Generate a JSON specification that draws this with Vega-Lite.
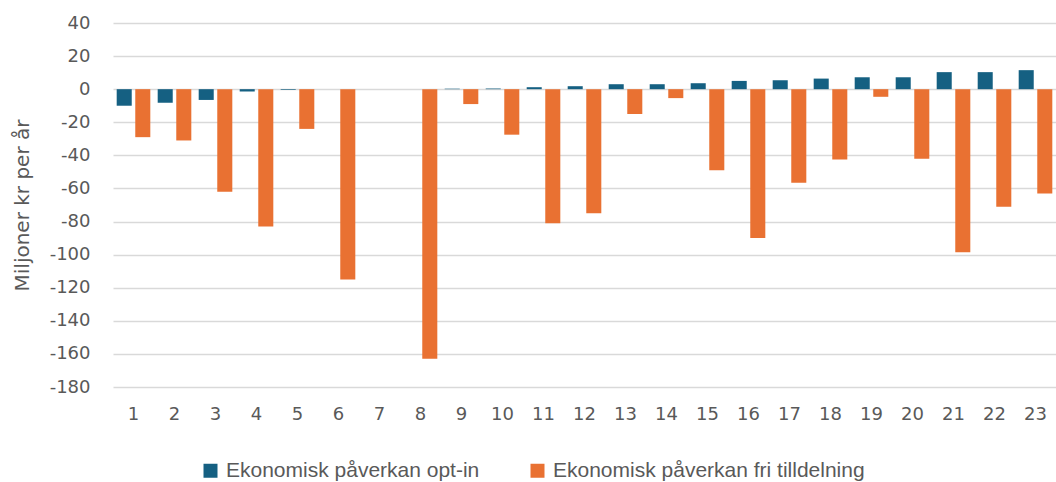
{
  "$schema": "https://vega.github.io/schema/vega-lite/v6.json",
  "width": 943,
  "height": 364,
  "autosize": {"type": "none"},
  "padding": {"left": 113, "top": 23, "right": 0, "bottom": 95},
  "background": "white",
  "data": {
    "values": [
      {"cat": 1, "series": "Ekonomisk påverkan opt-in", "value": -10},
      {"cat": 2, "series": "Ekonomisk påverkan opt-in", "value": -8.2},
      {"cat": 3, "series": "Ekonomisk påverkan opt-in", "value": -6.5},
      {"cat": 4, "series": "Ekonomisk påverkan opt-in", "value": -1.4},
      {"cat": 5, "series": "Ekonomisk påverkan opt-in", "value": -0.4},
      {"cat": 6, "series": "Ekonomisk påverkan opt-in", "value": 0},
      {"cat": 7, "series": "Ekonomisk påverkan opt-in", "value": 0},
      {"cat": 8, "series": "Ekonomisk påverkan opt-in", "value": 0},
      {"cat": 9, "series": "Ekonomisk påverkan opt-in", "value": 0.3},
      {"cat": 10, "series": "Ekonomisk påverkan opt-in", "value": 0.4},
      {"cat": 11, "series": "Ekonomisk påverkan opt-in", "value": 1.2},
      {"cat": 12, "series": "Ekonomisk påverkan opt-in", "value": 1.8},
      {"cat": 13, "series": "Ekonomisk påverkan opt-in", "value": 3},
      {"cat": 14, "series": "Ekonomisk påverkan opt-in", "value": 3},
      {"cat": 15, "series": "Ekonomisk påverkan opt-in", "value": 3.6},
      {"cat": 16, "series": "Ekonomisk påverkan opt-in", "value": 5},
      {"cat": 17, "series": "Ekonomisk påverkan opt-in", "value": 5.4},
      {"cat": 18, "series": "Ekonomisk påverkan opt-in", "value": 6.4},
      {"cat": 19, "series": "Ekonomisk påverkan opt-in", "value": 7.2},
      {"cat": 20, "series": "Ekonomisk påverkan opt-in", "value": 7.2},
      {"cat": 21, "series": "Ekonomisk påverkan opt-in", "value": 10.3},
      {"cat": 22, "series": "Ekonomisk påverkan opt-in", "value": 10.3},
      {"cat": 23, "series": "Ekonomisk påverkan opt-in", "value": 11.5},
      {"cat": 1, "series": "Ekonomisk påverkan fri tilldelning", "value": -29},
      {"cat": 2, "series": "Ekonomisk påverkan fri tilldelning", "value": -31},
      {"cat": 3, "series": "Ekonomisk påverkan fri tilldelning", "value": -62},
      {"cat": 4, "series": "Ekonomisk påverkan fri tilldelning", "value": -83},
      {"cat": 5, "series": "Ekonomisk påverkan fri tilldelning", "value": -24},
      {"cat": 6, "series": "Ekonomisk påverkan fri tilldelning", "value": -115},
      {"cat": 7, "series": "Ekonomisk påverkan fri tilldelning", "value": 0},
      {"cat": 8, "series": "Ekonomisk påverkan fri tilldelning", "value": -163},
      {"cat": 9, "series": "Ekonomisk påverkan fri tilldelning", "value": -9},
      {"cat": 10, "series": "Ekonomisk påverkan fri tilldelning", "value": -27.5},
      {"cat": 11, "series": "Ekonomisk påverkan fri tilldelning", "value": -81},
      {"cat": 12, "series": "Ekonomisk påverkan fri tilldelning", "value": -75},
      {"cat": 13, "series": "Ekonomisk påverkan fri tilldelning", "value": -15},
      {"cat": 14, "series": "Ekonomisk påverkan fri tilldelning", "value": -5.4},
      {"cat": 15, "series": "Ekonomisk påverkan fri tilldelning", "value": -49},
      {"cat": 16, "series": "Ekonomisk påverkan fri tilldelning", "value": -90},
      {"cat": 17, "series": "Ekonomisk påverkan fri tilldelning", "value": -56.5},
      {"cat": 18, "series": "Ekonomisk påverkan fri tilldelning", "value": -42.5},
      {"cat": 19, "series": "Ekonomisk påverkan fri tilldelning", "value": -4.6},
      {"cat": 20, "series": "Ekonomisk påverkan fri tilldelning", "value": -42},
      {"cat": 21, "series": "Ekonomisk påverkan fri tilldelning", "value": -98.5},
      {"cat": 22, "series": "Ekonomisk påverkan fri tilldelning", "value": -71},
      {"cat": 23, "series": "Ekonomisk påverkan fri tilldelning", "value": -63}
    ]
  },
  "mark": {"type": "bar"},
  "encoding": {
    "x": {
      "field": "cat",
      "type": "ordinal",
      "scale": {"paddingInner": 0.18, "paddingOuter": 0.09},
      "axis": {
        "title": null,
        "labelAngle": 0,
        "labelFont": "DejaVu Sans",
        "labelFontSize": 18,
        "labelColor": "#595959",
        "labelPadding": 18,
        "ticks": false,
        "domain": false,
        "grid": false
      }
    },
    "xOffset": {
      "field": "series",
      "type": "nominal",
      "sort": ["Ekonomisk påverkan opt-in", "Ekonomisk påverkan fri tilldelning"],
      "scale": {"paddingInner": 0.19}
    },
    "y": {
      "field": "value",
      "type": "quantitative",
      "scale": {"domain": [-180, 40], "nice": false, "zero": false},
      "axis": {
        "title": "Miljoner kr per år",
        "titleFont": "DejaVu Sans",
        "titleFontSize": 20,
        "titleFontWeight": "normal",
        "titleColor": "#595959",
        "titleX": -91,
        "titleBaseline": "middle",
        "values": [-180, -160, -140, -120, -100, -80, -60, -40, -20, 0, 20, 40],
        "labelExpr": "'' + datum.value",
        "labelFont": "DejaVu Sans",
        "labelFontSize": 18,
        "labelColor": "#595959",
        "labelPadding": 23,
        "ticks": false,
        "domain": false,
        "grid": true,
        "gridColor": "#d9d9d9",
        "gridWidth": 1.3
      }
    },
    "color": {
      "field": "series",
      "type": "nominal",
      "sort": ["Ekonomisk påverkan opt-in", "Ekonomisk påverkan fri tilldelning"],
      "scale": {
        "domain": ["Ekonomisk påverkan opt-in", "Ekonomisk påverkan fri tilldelning"],
        "range": ["#156082", "#E97132"]
      },
      "legend": {
        "title": null,
        "orient": "none",
        "direction": "horizontal",
        "legendX": 87,
        "legendY": 437,
        "symbolType": "square",
        "symbolSize": 196,
        "symbolStrokeWidth": 0,
        "symbolOpacity": 1,
        "labelFont": "Liberation Sans",
        "labelFontSize": 21,
        "labelColor": "#595959",
        "labelOffset": 5,
        "labelLimit": 0,
        "columnPadding": 47
      }
    }
  },
  "config": {
    "view": {"stroke": null}
  }
}
